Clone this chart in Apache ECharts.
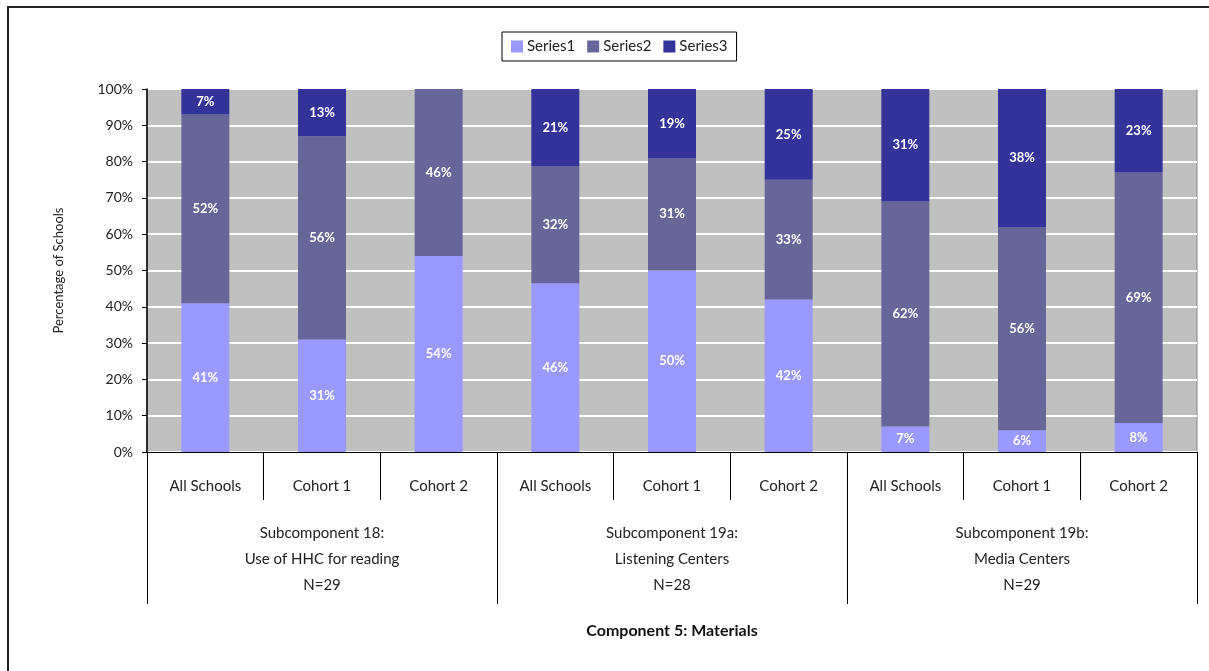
<!DOCTYPE html>
<html>
<head>
<meta charset="utf-8">
<script src="https://cdn.jsdelivr.net/npm/echarts@6/dist/echarts.min.js"></script>
<style>
  html, body { margin: 0; padding: 0; background: #fff; }
  #chart { width: 1209px; height: 671px; }
</style>
</head>
<body>
<div id="chart"></div>
<script>
// categories
const schools = ['All Schools', 'Cohort 1', 'Cohort 2', 'All Schools', 'Cohort 1', 'Cohort 2', 'All Schools', 'Cohort 1', 'Cohort 2']
const groups = [
  'Subcomponent 18:\nUse of HHC for reading\nN=29',
  'Subcomponent 19a:\nListening Centers\nN=28',
  'Subcomponent 19b:\nMedia Centers\nN=29'
]
const yTicks = [0, 10, 20, 30, 40, 50, 60, 70, 80, 90, 100]

// series values (percent, as labelled)
const series1 = [41, 31, 54, 46, 50, 42, 7, 6, 8]
const series2 = [52, 56, 46, 32, 31, 33, 62, 56, 69]
const series3 = [7, 13, 0, 21, 19, 25, 31, 38, 23]

const colors = ['#9999ff', '#666699', '#333399']
const font = 'Lato, "DejaVu Sans", sans-serif'

const raw = [series1, series2, series3]
// 100% stacked: normalise each column
const totals = schools.map((s, i) => series1[i] + series2[i] + series3[i])

const myChart = echarts.init(document.getElementById('chart'))

const series = raw.map((vals, k) => ({
  name: 'Series' + (k + 1),
  type: 'bar',
  stack: 'total',
  barWidth: 48,
  xAxisIndex: 0,
  itemStyle: { color: colors[k] },
  label: {
    show: true,
    position: 'inside',
    color: '#fff',
    fontFamily: font,
    fontSize: 13,
    fontWeight: 'bold',
    formatter: p => vals[p.dataIndex] ? vals[p.dataIndex] + '%' : ''
  },
  data: vals.map((v, i) => v / totals[i] * 100)
}))

const option = {
  animation: false,
  textStyle: { fontFamily: font },
  graphic: [{
    // outer frame
    type: 'rect',
    shape: { x: 8, y: 7, width: 1220, height: 700 },
    style: { fill: 'none', stroke: '#222', lineWidth: 2 }
  }, {
    type: 'text',
    x: 672,
    y: 631,
    style: {
      text: 'Component 5: Materials', fontFamily: font, fontSize: 16, fontWeight: 'bold',
      fill: '#111', align: 'center', verticalAlign: 'middle'
    }
  }],
  legend: {
    left: 502,
    top: 32,
    padding: [7, 9, 7, 9],
    borderColor: '#000',
    borderWidth: 1,
    itemWidth: 12,
    itemHeight: 12,
    itemGap: 12,
    icon: 'rect',
    textStyle: { fontFamily: font, fontSize: 15, color: '#222', padding: [0, 0, 0, -1] },
    data: ['Series1', 'Series2', 'Series3']
  },
  grid: {
    left: 147,
    right: 12,
    top: 89,
    bottom: 219,
    show: true,
    backgroundColor: '#c0c0c0',
    borderColor: '#888',
    borderWidth: 1
  },
  xAxis: [{
    type: 'category',
    data: schools,
    position: 'bottom',
    axisLine: { lineStyle: { color: '#000', width: 1 } },
    axisTick: { show: true, interval: 0, length: 48, lineStyle: { color: '#000' } },
    axisLabel: { interval: 0, margin: 27, fontSize: 15, color: '#222', fontFamily: font }
  }, {
    type: 'category',
    data: groups,
    position: 'bottom',
    axisLine: { show: false },
    axisTick: { show: true, interval: 0, length: 152, lineStyle: { color: '#000' } },
    axisLabel: { interval: 0, margin: 68, fontSize: 15, lineHeight: 26, color: '#222', fontFamily: font }
  }],
  yAxis: {
    type: 'value',
    min: yTicks[0],
    max: yTicks[yTicks.length - 1],
    interval: 10,
    name: 'Percentage of Schools',
    nameLocation: 'middle',
    nameGap: 82,
    nameTextStyle: { fontSize: 13, color: '#222', fontFamily: font },
    axisLine: { show: true, lineStyle: { color: '#000', width: 1.5 } },
    axisTick: { show: true, length: 5, lineStyle: { color: '#000' } },
    axisLabel: { formatter: '{value}%', fontSize: 14, color: '#222', margin: 14, fontFamily: font },
    splitLine: { lineStyle: { color: '#fff', width: 2 } }
  },
  series: series
}

myChart.setOption(option)
</script>
</body>
</html>
